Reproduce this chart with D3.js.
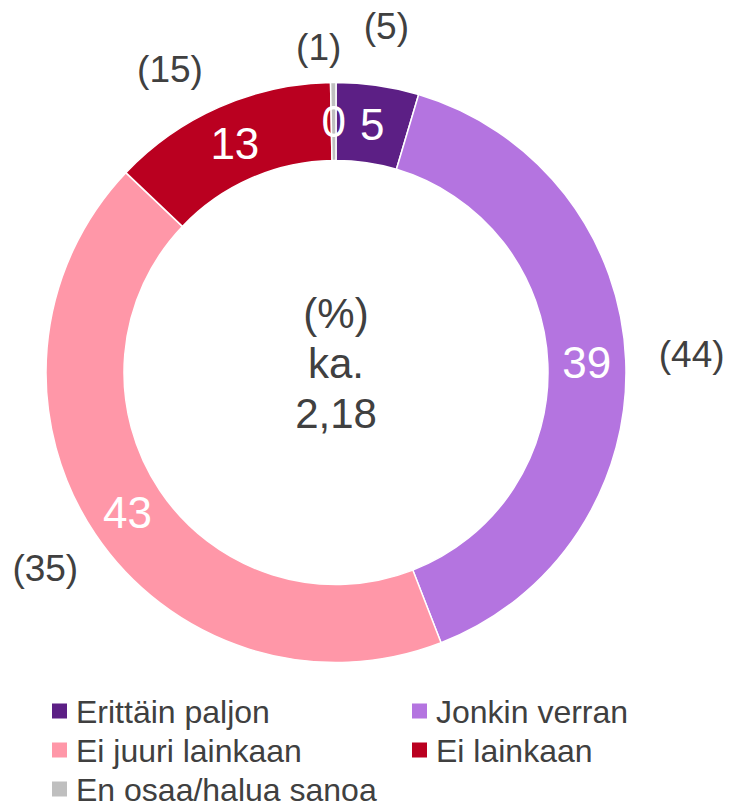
<!DOCTYPE html>
<html>
<head>
<meta charset="utf-8">
<script src="https://cdn.jsdelivr.net/npm/d3@7"></script>
<style>
    body { margin: 0; background: #fff; }
    svg text { font-family: "Liberation Sans", Arial, sans-serif; }
</style>
</head>
<body>
<div id="chart"></div>
<script>
// chart data
const categories = ["Erittäin paljon", "Jonkin verran", "Ei juuri lainkaan", "Ei lainkaan", "En osaa/halua sanoa"];
const values = [4.6, 39.5, 43.0, 12.6, 0.3];
const valueLabels = ["5", "39", "43", "13", "0"];
const previousLabels = ["(5)", "(44)", "(35)", "(15)", "(1)"];
const colors = ["#5c1f85", "#b474e0", "#ff97a8", "#ba0020", "#bfbfbf"];
const centerLines = ["(%)", "ka.", "2,18"];

const width = 731;
const height = 807;
const cx = 336, cy = 372.5;
const outerR = 290, innerR = 212;

let svg = d3.select("#chart")
    .append("svg")
    .attr("width", width)
    .attr("height", height);

let g = svg.append("g").attr("transform", `translate(${cx},${cy})`);

let rows = categories.map((c, i) => ({cat: c, value: values[i], label: valueLabels[i], prev: previousLabels[i], color: colors[i]}));

let pie = d3.pie().sort(null).value((d) => d.value);
let arc = d3.arc().innerRadius(innerR).outerRadius(outerR);
let arcs = pie(rows);

g.selectAll("path.slice")
    .data(arcs)
    .enter()
    .append("path")
    .attr("class", "slice")
    .attr("d", arc)
    .attr("fill", (d) => d.data.color)
    .attr("stroke", "#fff")
    .attr("stroke-width", 1.5);

// values inside the ring
g.selectAll("text.val")
    .data(arcs)
    .enter()
    .append("text")
    .attr("class", "val")
    .attr("transform", (d) => `translate(${arc.centroid(d)})`)
    .attr("text-anchor", "middle")
    .attr("dy", "0.36em")
    .attr("font-size", 44)
    .attr("fill", "#fff")
    .text((d) => d.data.label);

// previous values outside, some of them moved by hand like in the original
let outerArc = d3.arc().innerRadius(350).outerRadius(350);
let nudge = {"Jonkin verran": [6, -5], "Ei lainkaan": [-25, 17], "En osaa/halua sanoa": [-14, 24]};
g.selectAll("text.prev")
    .data(arcs)
    .enter()
    .append("text")
    .attr("class", "prev")
    .attr("transform", (d) => {
        let p = outerArc.centroid(d);
        let n = nudge[d.data.cat] || [0, 0];
        return `translate(${p[0] + n[0]},${p[1] + n[1]})`;
    })
    .attr("text-anchor", "middle")
    .attr("dy", "0.36em")
    .attr("font-size", 37)
    .attr("fill", "#404040")
    .text((d) => d.data.prev);

// centre text
g.selectAll("text.center")
    .data(centerLines)
    .enter()
    .append("text")
    .attr("class", "center")
    .attr("x", 0)
    .attr("y", (d, i) => (i - 1) * 50 - 10)
    .attr("text-anchor", "middle")
    .attr("dy", "0.36em")
    .attr("font-size", 42)
    .attr("fill", "#404040")
    .text((d) => d);

// legend
let legend = svg.append("g").attr("class", "legend");
let item = legend.selectAll("g")
    .data(rows)
    .enter()
    .append("g")
    .attr("transform", (d, i) => `translate(${i % 2 ? 412 : 52},${711 + Math.floor(i / 2) * 39})`);

item.append("rect")
    .attr("x", 0)
    .attr("y", -7.5)
    .attr("width", 15)
    .attr("height", 15)
    .attr("fill", (d) => d.color);

item.append("text")
    .attr("x", 24)
    .attr("dy", "0.36em")
    .attr("font-size", 32)
    .attr("fill", "#404040")
    .text((d) => d.cat);
</script>
</body>
</html>
